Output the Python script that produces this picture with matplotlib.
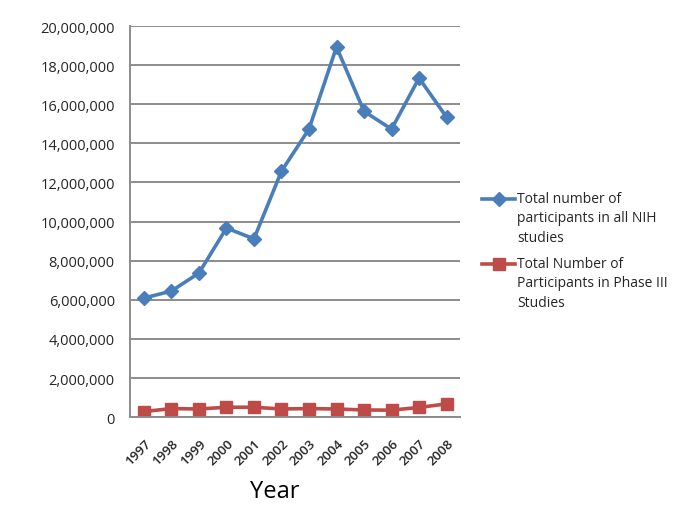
import matplotlib

matplotlib.use("Agg")
import matplotlib.pyplot as plt  # noqa: E402
import numpy as np  # noqa: E402
from matplotlib.legend_handler import HandlerLine2D  # noqa: E402
from matplotlib.ticker import FuncFormatter  # noqa: E402

_BLUE = "#4a7ebb"
_RED = "#be4b48"
_GRID = "#8c8c8c"
_TXT = "#262626"
_LEG_FS = 10
_LEG_LS = 1.4

years = ["1997", "1998", "1999", "2000", "2001", "2002",
         "2003", "2004", "2005", "2006", "2007", "2008"]
nih_total = [6090000, 6450000, 7370000, 9670000, 9120000, 12580000,
             14730000, 18930000, 15640000, 14730000, 17340000, 15340000]
phase3_total = [290000, 440000, 420000, 510000, 510000, 420000,
                440000, 420000, 370000, 360000, 500000, 680000]


class _FirstLineHandler(HandlerLine2D):
    """Legend handle aligned with the first line of a multi-line label."""

    def create_artists(self, legend, orig_handle, xdescent, ydescent,
                       width, height, fontsize, trans):
        arts = super().create_artists(legend, orig_handle, xdescent, ydescent,
                                      width, height, fontsize, trans)
        for a in arts:
            a.set_ydata(np.asarray(a.get_ydata()) + _LEG_LS * fontsize)
        return arts


plt.rcParams["font.family"] = ["Open Sans", "DejaVu Sans"]

fig = plt.figure(figsize=(6.85, 5.1), dpi=100)
ax = fig.add_axes([0.19, 0.18, 0.482, 0.767])

x = list(range(len(years)))
l1, = ax.plot(x, nih_total, color=_BLUE, lw=2.6, marker="D", ms=7.5,
              label="Total number of\nparticipants in all NIH\nstudies")
l2, = ax.plot(x, phase3_total, color=_RED, lw=2.6, marker="s", ms=8,
              label="Total Number of\nParticipants in Phase III\nStudies")

ax.set_xlim(-0.5, len(years) - 0.5)
ax.set_ylim(0, 20000000)
ax.set_yticks(range(0, 20000001, 2000000))
ax.yaxis.set_major_formatter(FuncFormatter(lambda v, _: f"{int(v):,}"))
ax.set_xticks(x)
ax.set_xticklabels(years, rotation=45, ha="right", rotation_mode="anchor")
ax.tick_params(axis="both", length=0, colors=_TXT)
ax.tick_params(axis="y", pad=11, labelsize=10.5)
ax.tick_params(axis="x", pad=14, labelsize=9.5)
for lbl in ax.get_xticklabels():
    lbl.set_fontweight("semibold")
ax.grid(True, axis="y", color=_GRID, lw=1.4)
ax.set_axisbelow(True)
for side in ("top", "right"):
    ax.spines[side].set_visible(False)
for side in ("left", "bottom"):
    ax.spines[side].set_color(_GRID)
    ax.spines[side].set_linewidth(1.4)

fig.text(275 / 685, 18 / 510, "Year", ha="center", va="center",
         fontsize=17, color="black")

leg = fig.legend(handles=[l1, l2], loc="upper left",
                 bbox_to_anchor=(482 / 685, 1 - 192 / 510),
                 frameon=False, fontsize=_LEG_FS, handlelength=2.4,
                 handletextpad=0.15, labelspacing=0.8, borderpad=0,
                 borderaxespad=0, labelcolor=_TXT,
                 handler_map={l1: _FirstLineHandler(),
                              l2: _FirstLineHandler()})
for t in leg.get_texts():
    t.set_linespacing(_LEG_LS)

fig.savefig("out.png", dpi=100, facecolor="white")
